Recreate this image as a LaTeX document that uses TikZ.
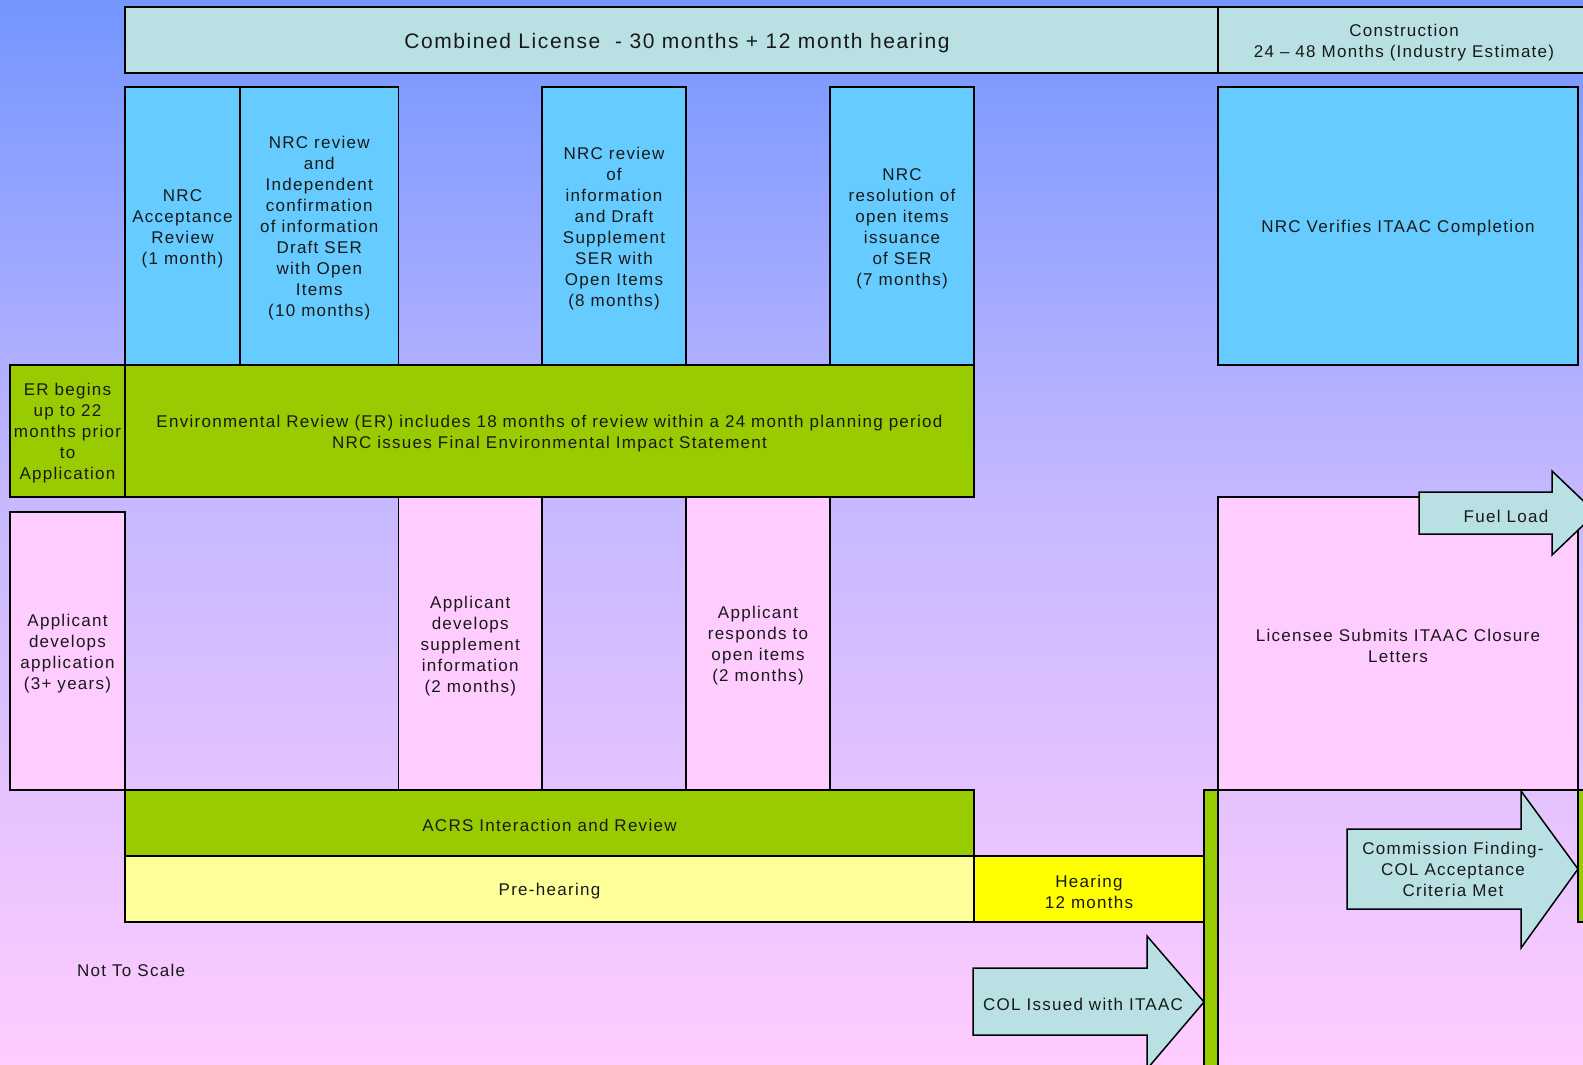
\documentclass[tikz,border=0pt]{standalone}
\usepackage{fontspec}
\setmainfont[LetterSpace=7.5]{Liberation Sans}
\definecolor{bgA}{RGB}{115,150,255}
\definecolor{bgB}{RGB}{198,184,255}
\definecolor{bgC}{RGB}{255,204,255}
\definecolor{teal}{RGB}{185,224,227}
\definecolor{sky}{RGB}{102,204,255}
\definecolor{grn}{RGB}{153,204,0}
\definecolor{pnk}{RGB}{255,204,255}
\definecolor{lyel}{RGB}{255,255,153}
\definecolor{yel}{RGB}{255,255,0}
\definecolor{ink}{RGB}{25,25,25}
\newcommand\mybox[7]{\node[box,fill=#2,minimum width={#5pt-#3pt},minimum height={#6pt-#4pt}] (#1) at ({(#3+#5)/2},{(#4+#6)/2}) {};
  \node[txt,yshift=-2.5pt] (#1t) at (#1.center) {#7};}
\begin{document}
\begin{tikzpicture}[x=1pt,y=-1pt,
  box/.style={draw=black,line width=1.5pt,inner sep=0pt},
  txt/.style={inner sep=0pt,align=center,text=ink,font=\fontsize{17}{21}\selectfont},
  barrow/.style={draw=black,line width=1.5pt,fill=teal,line join=miter}]
\useasboundingbox (0,0) rectangle (1583,1065);
\fill[top color=bgA,bottom color=bgB] (0,0) rectangle (1583,501);
\fill[top color=bgB,bottom color=bgC] (0,500) rectangle (1583,1065);
% top row
\mybox{col}{teal}{125}{7}{1218}{73}{}
\node[txt,font=\fontsize{21}{25}\selectfont] (coltxt) at (677,43.5) {Combined License \ - 30 months + 12 month hearing};
\mybox{con}{teal}{1218}{7}{1640}{73}{}
\node[txt] (contxt) at (1404,42.5) {Construction\\24 -- 48 Months (Industry Estimate)};
% NRC blue boxes
\mybox{acc}{sky}{125}{87}{240}{365}{NRC\\Acceptance\\Review\\(1 month)}
\mybox{rev}{sky}{240}{87}{398.5}{365}{NRC review\\and\\Independent\\confirmation\\of information\\Draft SER\\with Open\\Items\\(10 months)}
\mybox{sup}{sky}{542}{87}{686}{365}{NRC review\\of\\information\\and Draft\\Supplement\\SER with\\Open Items\\(8 months)}
\mybox{res}{sky}{830}{87}{974}{365}{NRC\\resolution of\\open items\\issuance\\of SER\\(7 months)}
\mybox{ver}{sky}{1218}{87}{1578}{365}{NRC Verifies ITAAC Completion}
% environmental
\mybox{erb}{grn}{10}{365}{125}{497}{ER begins\\up to 22\\months prior\\to\\Application}
\mybox{env}{grn}{125}{365}{974}{497}{Environmental Review (ER) includes 18 months of review within a 24 month planning period\\NRC issues Final Environmental Impact Statement}
% applicant
\mybox{app}{pnk}{10}{512}{125}{790}{Applicant\\develops\\application\\(3+ years)}
\mybox{asu}{pnk}{398.5}{497}{542}{790}{Applicant\\develops\\supplement\\information\\(2 months)}
\mybox{aop}{pnk}{686}{497}{830}{790}{Applicant\\responds to\\open items\\(2 months)}
\mybox{lic}{pnk}{1218}{497}{1578}{790}{Licensee Submits ITAAC Closure\\Letters}
% bottom
\mybox{acrs}{grn}{125}{790}{974}{856}{ACRS Interaction and Review}
\mybox{pre}{lyel}{125}{856}{974}{922}{Pre-hearing}
\mybox{hear}{yel}{974}{856}{1204}{922}{Hearing\\12 months}
\mybox{low}{none}{1218}{790}{1640}{1090}{}
\mybox{gbar}{grn}{1204}{790}{1218}{1090}{}
\mybox{gbar2}{grn}{1578}{790}{1640}{922}{}
\node[txt,anchor=west] (nts) at (77,970) {Not To Scale};
% block arrows
\draw[barrow] (1419,492) -- (1552,492) -- (1552,471) -- (1596,513) -- (1552,555) -- (1552,534) -- (1419,534) -- cycle;
\node[txt] (fuel) at (1506,516) {Fuel Load};
\draw[barrow] (1347,829) -- (1521,829) -- (1521,791) -- (1578,869) -- (1521,948) -- (1521,909) -- (1347,909) -- cycle;
\node[txt] (comm) at (1453,869) {Commission Finding-\\COL Acceptance\\Criteria Met};
\draw[barrow] (973,968) -- (1147,968) -- (1147,936) -- (1204,1002) -- (1147,1069) -- (1147,1035) -- (973,1035) -- cycle;
\node[txt] (coli) at (1083,1004) {COL Issued with ITAAC};
\end{tikzpicture}
\end{document}
